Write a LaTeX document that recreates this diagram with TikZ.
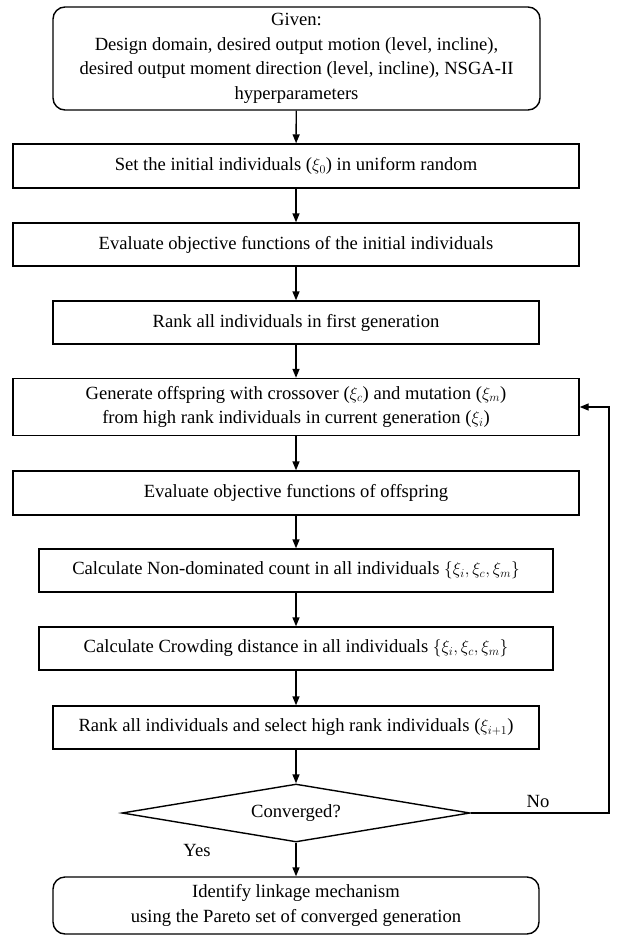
\documentclass[tikz,border=0pt]{standalone}
\usepackage{fontspec}
\setmainfont{Liberation Serif}
\usetikzlibrary{arrows.meta,shapes.geometric}
\begin{document}
\begin{tikzpicture}[x=1pt,y=-1pt,
  every node/.style={font=\fontsize{18.6}{24.5}\selectfont},
  box/.style={draw,line width=1.4pt,inner sep=0pt,align=center,minimum height=43pt},
  rbox/.style={box,rounded corners=12pt},
  dia/.style={draw,line width=1.4pt,diamond,aspect=6,inner sep=0pt,minimum width=348pt,minimum height=58pt},
  arr/.style={line width=1.4pt,-{Triangle[length=9pt,width=7pt]}},
  lbl/.style={inner sep=0pt}]
\useasboundingbox (0,0) rectangle (616,937);
\node[rbox,minimum width=487pt,minimum height=103pt] (b1) at (296.5,58.5) {Given:\\Design domain, desired output motion (level, incline),\\desired output moment direction (level, incline), NSGA-II\\hyperparameters};
\node[box,minimum width=566pt,minimum height=44pt] (b2) at (296,166) {Set the initial individuals ($\xi_0$) in uniform random};
\node[box,minimum width=566pt] (b3) at (296,244.5) {Evaluate objective functions of the initial individuals};
\node[box,minimum width=486pt] (b4) at (296,322.5) {Rank all individuals in first generation};
\node[box,minimum width=566pt,minimum height=57pt] (b5) at (296,407) {Generate offspring with crossover ($\xi_c$) and mutation ($\xi_m$)\\from high rank individuals in current generation ($\xi_i$)};
\node[box,minimum width=566pt,minimum height=44pt] (b6) at (296,493) {Evaluate objective functions of offspring};
\node[box,minimum width=514pt] (b7) at (296,570.5) {Calculate Non-dominated count in all individuals $\{\xi_i,\xi_c,\xi_m\}$};
\node[box,minimum width=514pt] (b8) at (296,648.5) {Calculate Crowding distance in all individuals $\{\xi_i,\xi_c,\xi_m\}$};
\node[box,minimum width=486pt] (b9) at (296,727.5) {Rank all individuals and select high rank individuals ($\xi_{i+1}$)};
\node[dia] (d) at (296,813) {Converged?};
\node[rbox,minimum width=486pt,minimum height=57pt] (f) at (296,905.5) {Identify linkage mechanism\\using the Pareto set of converged generation};
\node[lbl] (no) at (538,801) {No};
\node[lbl] (yes) at (197,850) {Yes};
\coordinate (lp) at (609,813);
\draw[arr] (b1) -- (b2);
\draw[arr] (b2) -- (b3);
\draw[arr] (b3) -- (b4);
\draw[arr] (b4) -- (b5);
\draw[arr] (b5) -- (b6);
\draw[arr] (b6) -- (b7);
\draw[arr] (b7) -- (b8);
\draw[arr] (b8) -- (b9);
\draw[arr] (b9) -- (d);
\draw[arr] (d) -- (f);
\draw[arr] (d.east) -- (lp) |- (b5.east);
\end{tikzpicture}
\end{document}
